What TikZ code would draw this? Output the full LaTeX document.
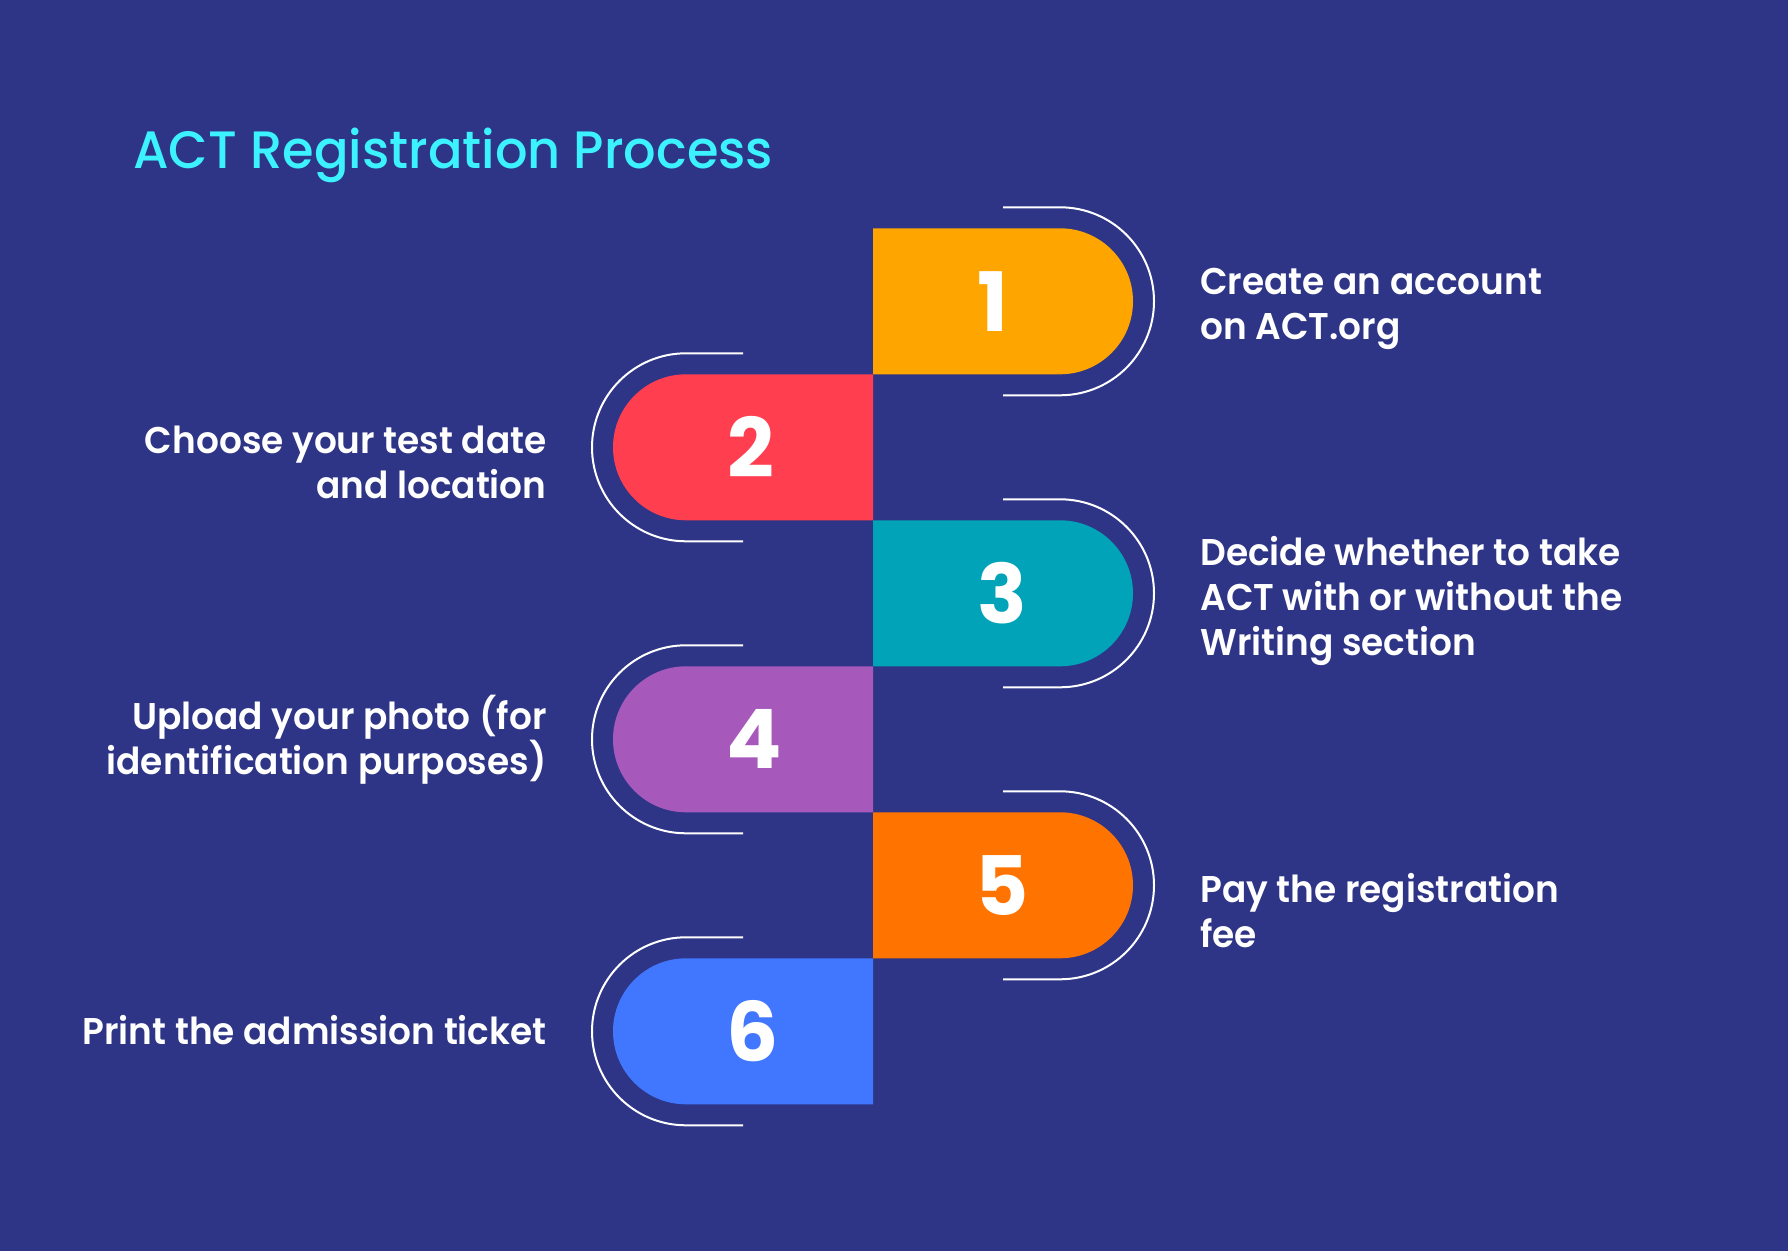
\documentclass[tikz,border=0pt]{standalone}
\usepackage{fontspec}
\setmainfont{Poppins}[UprightFont={* SemiBold},FakeStretch=0.965]
\newfontfamily\titlefont{Poppins}[UprightFont={* Medium},FakeStretch=0.97]
\newfontfamily\numfont{Poppins}[UprightFont={* Bold}]
\definecolor{bgblue}{HTML}{2E3586}
\definecolor{titlecyan}{HTML}{3DF2FF}
\definecolor{cA}{HTML}{FFA500}
\definecolor{cB}{HTML}{FF3E4F}
\definecolor{cC}{HTML}{00A3B8}
\definecolor{cD}{HTML}{A659BB}
\definecolor{cE}{HTML}{FF7300}
\definecolor{cF}{HTML}{4177FF}
\tikzset{
  ring/.style={draw=white, line width=1pt},
  numlabel/.style={text=white, inner sep=0pt, font=\numfont\fontsize{41}{41}\selectfont},
  steptext/.style={text=white, inner sep=0pt, font=\fontsize{18.6}{22.5}\selectfont},
}
\begin{document}
\begin{tikzpicture}[x=0.5pt,y=0.5pt]
\fill[bgblue] (0,0) rectangle (1788,-1251);
\useasboundingbox (0,0) rectangle (1788,-1251);
\node[anchor=base west, inner sep=0pt, text=titlecyan, font=\titlefont\fontsize{26.3}{30}\selectfont] (title) at (133,-168.3) {ACT Registration Process};
% right-side steps
\foreach \i/\c/\nx in {1/cA/993,3/cC/1002,5/cE/1002}{
  \pgfmathsetmacro\ty{228.3+(\i-1)*146}
  \pgfmathsetmacro\cy{\ty+73}
  \fill[\c] (873,-\ty) -- (1060,-\ty) arc[start angle=90,end angle=-90,radius=73] -- (873,-\ty-146) -- cycle;
  \draw[ring] (1003,-\cy+94) -- (1060,-\cy+94) arc[start angle=90,end angle=-90,radius=94] -- (1003,-\cy-94);
  \node[numlabel] (n\i) at (\nx,-\cy) {\i};
}
% left-side steps
\foreach \i/\c/\nx in {2/cB/751,4/cD/754,6/cF/753}{
  \pgfmathsetmacro\ty{228.3+(\i-1)*146}
  \pgfmathsetmacro\cy{\ty+73}
  \fill[\c] (873,-\ty) -- (686,-\ty) arc[start angle=90,end angle=270,radius=73] -- (873,-\ty-146) -- cycle;
  \draw[ring] (743,-\cy+94) -- (686,-\cy+94) arc[start angle=90,end angle=270,radius=94] -- (743,-\cy-94);
  \node[numlabel] (n\i) at (\nx,-\cy) {\i};
}
\node[steptext, anchor=west, align=left] (t1) at (1200,-309) {Create an account\\on ACT.org};
\node[steptext, anchor=east, align=right] (t2) at (547,-462) {Choose your test date\\and location};
\node[steptext, anchor=west, align=left] (t3) at (1200,-601) {Decide whether to take\\ACT with or without the\\Writing section};
\node[steptext, anchor=east, align=right] (t4) at (547,-740) {Upload your photo (for\\identification purposes)};
\node[steptext, anchor=west, align=left] (t5) at (1200,-911) {Pay the registration\\fee};
\node[steptext, anchor=east, align=right] (t6) at (547,-1030) {Print the admission ticket};
\end{tikzpicture}
\end{document}
